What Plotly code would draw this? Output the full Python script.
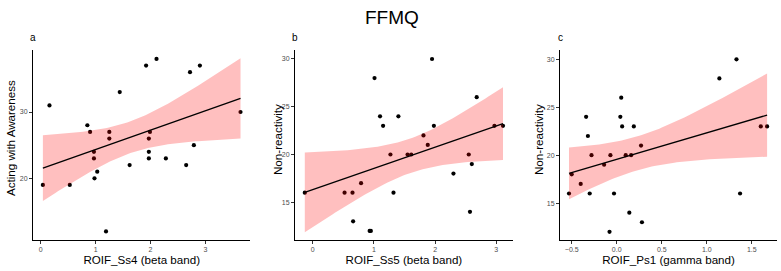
import numpy as np
import plotly.graph_objects as go

# ---------------- data ----------------
a_x = [0.04, 0.16, 0.53, 0.85, 0.90, 0.97, 0.97, 0.98, 1.03, 1.19, 1.25, 1.25, 1.44,
       1.62, 1.92, 1.97, 1.97, 1.97, 1.99, 2.11, 2.28, 2.65, 2.72, 2.79, 2.90, 3.64]
a_y = [19, 31, 19, 28, 27, 24, 23, 20, 21, 12, 26, 27, 33,
       22, 37, 24, 23, 26, 27, 38, 23, 22, 36, 25, 37, 30]

b_x = [-0.13, 0.52, 0.65, 0.66, 0.79, 0.93, 0.95, 1.01, 1.10, 1.15, 1.27, 1.32, 1.40,
       1.55, 1.61, 1.81, 1.88, 1.95, 1.98, 2.30, 2.55, 2.57, 2.60, 2.68, 2.97, 3.11]
b_y = [16, 16, 16, 13, 17, 12, 12, 28, 24, 23, 20, 16, 24,
       20, 20, 22, 21, 30, 23, 18, 20, 14, 19, 26, 23, 23]

c_x = [-0.53, -0.50, -0.40, -0.34, -0.32, -0.30, -0.28, -0.14, -0.08, -0.07, -0.03,
       0.04, 0.05, 0.06, 0.10, 0.14, 0.16, 0.19, 0.27, 0.28, 1.14, 1.33, 1.37, 1.60, 1.67]
c_y = [16, 18, 17, 24, 22, 16, 20, 19, 12, 20, 16,
       24, 26, 23, 20, 14, 20, 23, 21, 13, 28, 30, 16, 23, 23]

x_titles = ["ROIF_Ss4 (beta band)", "ROIF_Ss5 (beta band)", "ROIF_Ps1 (gamma band)"]
y_titles = ["Acting with Awareness", "Non-reactivity", "Non-reactivity"]
panel_tags = ["a", "b", "c"]
main_title = "FFMQ"

x_ticks = [[0, 1, 2, 3], [0, 1, 2, 3], [-0.5, 0.0, 0.5, 1.0, 1.5]]
y_ticks = [[20, 30], [15, 20, 25, 30], [15, 20, 25, 30]]

# ---------------- layout constants ----------------
W, H = 781, 271
x_ranges = [[-0.14, 3.82], [-0.29, 3.27], [-0.63, 1.78]]
y_ranges = [[10.7, 39.35], [11.05, 30.94], [11.15, 30.97]]
x_px = [(33, 250.4), (295, 512.8), (560, 777)]
y_px = (50, 240)  # top, bottom
ytitle_px = [(10, 138), (277, 140), (538, 140)]
T_CRIT = {23: 2.0687, 24: 2.0639, 25: 2.0595}

FONT = "Liberation Sans, Arial, Helvetica, sans-serif"
TITLE_SIZE = 11.6


def smooth_fit(x, y, n=80):
    x = np.asarray(x, float)
    y = np.asarray(y, float)
    k = len(x)
    b1, b0 = np.polyfit(x, y, 1)
    resid = y - (b0 + b1 * x)
    s = np.sqrt(np.sum(resid ** 2) / (k - 2))
    xm = x.mean()
    sxx = np.sum((x - xm) ** 2)
    gx = np.linspace(x.min(), x.max(), n)
    gy = b0 + b1 * gx
    se = s * np.sqrt(1.0 / k + (gx - xm) ** 2 / sxx)
    t = T_CRIT[k - 2]
    return gx, gy, gy - t * se, gy + t * se


fig = go.Figure()
datasets = [(a_x, a_y), (b_x, b_y), (c_x, c_y)]
annotations = []
for i, (xs, ys) in enumerate(datasets):
    ax = "" if i == 0 else str(i + 1)
    xref, yref = "x" + ax, "y" + ax
    gx, gy, lo, hi = smooth_fit(xs, ys)
    fig.add_trace(go.Scatter(x=xs, y=ys, mode="markers", xaxis=xref, yaxis=yref,
                             marker=dict(color="black", size=4.2, line=dict(width=0)),
                             showlegend=False, hoverinfo="x+y"))
    fig.add_trace(go.Scatter(x=np.concatenate([gx, gx[::-1]]),
                             y=np.concatenate([hi, lo[::-1]]),
                             mode="lines", fill="toself", xaxis=xref, yaxis=yref,
                             fillcolor="rgba(255,0,0,0.25)", line=dict(width=0),
                             showlegend=False, hoverinfo="skip"))
    fig.add_trace(go.Scatter(x=gx, y=gy, mode="lines", xaxis=xref, yaxis=yref,
                             line=dict(color="black", width=1.3),
                             showlegend=False, hoverinfo="skip"))

    axis_common = dict(showline=True, linecolor="black", linewidth=1, mirror=False,
                       showgrid=False, zeroline=False, ticks="outside", ticklen=3,
                       tickwidth=0.8, tickcolor="#333333",
                       tickfont=dict(family=FONT, size=7, color="#4d4d4d"))
    x0, x1 = x_px[i]
    xa = dict(axis_common, domain=[x0 / W, x1 / W], range=x_ranges[i],
              tickvals=x_ticks[i], anchor=yref,
              title=dict(text=x_titles[i], font=dict(family=FONT, size=TITLE_SIZE, color="black"),
                         standoff=3))
    if i == 2:
        xa["tickformat"] = ".1f"
    ya = dict(axis_common, domain=[(H - y_px[1]) / H, (H - y_px[0]) / H],
              range=y_ranges[i], tickvals=y_ticks[i], anchor=xref)
    fig.layout["xaxis" + ax] = xa
    fig.layout["yaxis" + ax] = ya
    tx, ty = ytitle_px[i]
    annotations.append(dict(text=y_titles[i], x=tx / W, y=(H - ty) / H,
                            xref="paper", yref="paper", showarrow=False, textangle=-90,
                            xanchor="center", yanchor="middle",
                            font=dict(family=FONT, size=TITLE_SIZE, color="black")))
    annotations.append(dict(text=panel_tags[i], x=x0 / W, y=(H - 37.5) / H,
                            xref="paper", yref="paper", showarrow=False,
                            xanchor="center", yanchor="middle",
                            font=dict(family=FONT, size=10, color="black")))

annotations.append(dict(text=main_title, x=392 / W, y=(H - 17) / H, xref="paper", yref="paper",
                        showarrow=False, xanchor="center", yanchor="middle",
                        font=dict(family=FONT, size=19, color="black")))

fig.update_layout(width=W, height=H, margin=dict(l=0, r=0, t=0, b=0),
                  paper_bgcolor="white", plot_bgcolor="white",
                  annotations=annotations, showlegend=False)

fig.write_html("out.html")
